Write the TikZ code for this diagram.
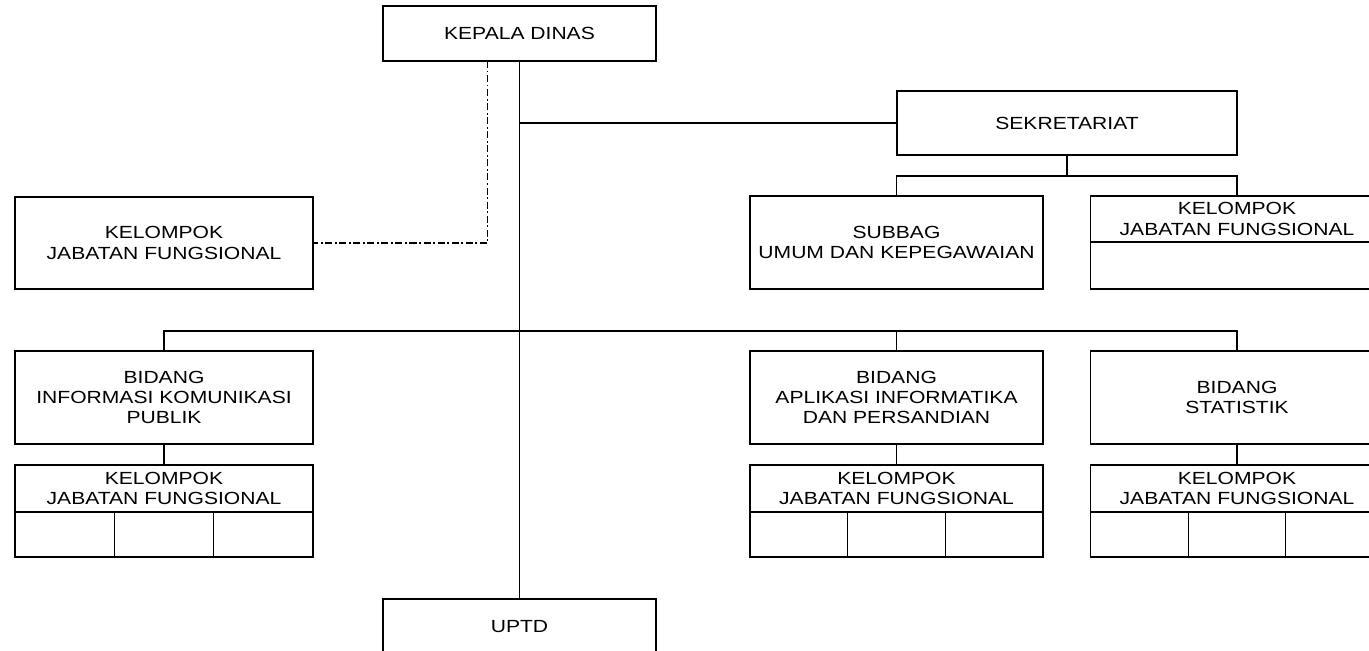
\documentclass[tikz,border=0pt]{standalone}
\usepackage{fontspec}
\setmainfont{Liberation Sans}[FakeStretch=1.2]
\usetikzlibrary{calc}
\usetikzlibrary{positioning}

\begin{document}
\begin{tikzpicture}[x=0.02cm, y=-0.02cm, line width=0.7pt,
  box/.style={draw, align=center, inner sep=0pt, outer sep=0pt, font=\fontsize{10}{11.6}\selectfont},
  cell/.style={draw, inner sep=0pt, outer sep=0pt, minimum height=0.9cm},
  dashdot/.style={dash pattern=on 4pt off 1.5pt on 1pt off 1.5pt}]
  \useasboundingbox (0,0) rectangle (1369,650);
  \clip (0,0) rectangle (1369,650);

  \node [box, minimum width=5.46cm, minimum height=1.1cm] (kadis) at (519.5,33.5) {KEPALA DINAS};
  \node [box, minimum width=6.8cm, minimum height=1.28cm] (sekre) at (1067,123) {SEKRETARIAT};
  \node [box, minimum width=5.96cm, minimum height=1.84cm] (kjfkiri) at (164,243) {KELOMPOK\\JABATAN FUNGSIONAL};
  \node [box, minimum width=5.86cm, minimum height=1.86cm] (subbag) at (896.5,242.5) {SUBBAG\\UMUM DAN KEPEGAWAIAN};
  \node [box, minimum width=5.86cm, minimum height=0.92cm] (kjfsek) at (1237,219) {KELOMPOK\\JABATAN FUNGSIONAL};
  \node [cell, minimum width=5.86cm, minimum height=0.94cm, anchor=north] (kjfsekb) at (kjfsek.south) {};

  \node [box, minimum width=5.96cm, minimum height=1.86cm] (bidikp) at (164,397.5) {BIDANG\\INFORMASI KOMUNIKASI\\PUBLIK};
  \node [box, minimum width=5.86cm, minimum height=1.86cm] (bidaip) at (896.5,397.5) {BIDANG\\APLIKASI INFORMATIKA\\DAN PERSANDIAN};
  \node [box, minimum width=5.86cm, minimum height=1.86cm] (bidstat) at (1237,397.5) {BIDANG\\STATISTIK};

  \node [box, minimum width=5.96cm, minimum height=0.94cm] (kjfikp) at (164,488.5) {KELOMPOK\\JABATAN FUNGSIONAL};
  \node [cell, minimum width=1.987cm, anchor=north west] (ikpa) at (kjfikp.south west) {};
  \node [cell, minimum width=1.987cm, right=0pt of ikpa] (ikpb) {};
  \node [cell, minimum width=1.987cm, right=0pt of ikpb] (ikpc) {};

  \node [box, minimum width=5.86cm, minimum height=0.94cm] (kjfaip) at (896.5,488.5) {KELOMPOK\\JABATAN FUNGSIONAL};
  \node [cell, minimum width=1.953cm, anchor=north west] (aipa) at (kjfaip.south west) {};
  \node [cell, minimum width=1.953cm, right=0pt of aipa] (aipb) {};
  \node [cell, minimum width=1.953cm, right=0pt of aipb] (aipc) {};

  \node [box, minimum width=5.86cm, minimum height=0.94cm] (kjfstat) at (1237,488.5) {KELOMPOK\\JABATAN FUNGSIONAL};
  \node [cell, minimum width=1.953cm, anchor=north west] (stata) at (kjfstat.south west) {};
  \node [cell, minimum width=1.953cm, right=0pt of stata] (statb) {};
  \node [cell, minimum width=1.953cm, right=0pt of statb] (statc) {};

  \node [box, minimum width=5.46cm, minimum height=1.12cm] (uptd) at (519.5,627) {UPTD};

  \draw (kadis) -- (uptd);
  \draw (sekre.west) -- (sekre.west -| kadis.south);
  \draw [dashdot] ($ (kadis.south)+(-32,0) $) |- (kjfkiri.east);
  \draw (sekre.south) -- ++(0,21);
  \draw (subbag.north) -- ++(0,-20) -| (kjfsek.north);
  \draw (bidikp.north) -- ++(0,-20) -| (bidstat.north);
  \draw (bidaip.north) -- ++(0,-20);
  \draw (bidikp) -- (kjfikp);
  \draw (bidaip) -- (kjfaip);
  \draw (bidstat) -- (kjfstat);
\end{tikzpicture}
\end{document}
